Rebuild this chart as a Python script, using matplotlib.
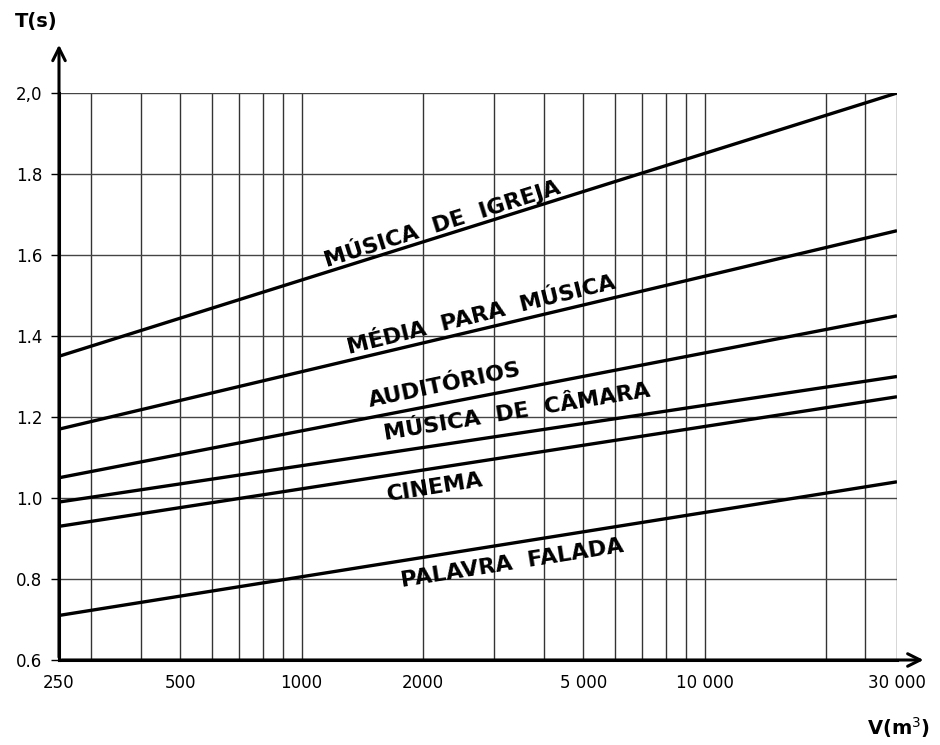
import numpy as np
import matplotlib
matplotlib.use("Agg")
import matplotlib.pyplot as plt

# --- data ---
series_names = ["MÚSICA  DE  IGREJA", "MÉDIA  PARA  MÚSICA", "AUDITÓRIOS",
                "MÚSICA  DE  CÂMARA", "CINEMA", "PALAVRA  FALADA"]
volume_ends = [250, 30000]
t_start = [1.35, 1.17, 1.05, 0.99, 0.93, 0.71]
t_end = [2.00, 1.66, 1.45, 1.30, 1.25, 1.04]

x_tick_values = [250, 500, 1000, 2000, 5000, 10000, 30000]
x_tick_labels = ["250", "500", "1000", "2000", "5 000", "10 000", "30 000"]
y_tick_values = [0.6, 0.8, 1.0, 1.2, 1.4, 1.6, 1.8, 2.0]
y_tick_labels = ["0.6", "0.8", "1.0", "1.2", "1.4", "1.6", "1.8", "2,0"]
x_grid_values = [300, 400, 500, 600, 700, 800, 900, 1000, 2000, 3000, 4000,
                 5000, 6000, 7000, 8000, 9000, 10000, 20000, 25000, 30000]

# label placement (data coords) and rotation
label_pos = [(2228, 1.681), (2800, 1.452), (2265, 1.279),
             (3430, 1.212), (2145, 1.027), (3330, 0.839)]
label_rot = [17.5, 13.8, 11.8, 9.3, 9.0, 9.0]

fig = plt.figure(figsize=(9.4, 7.45), dpi=100)
ax = fig.add_axes([59/940, 1-660/745, (897-59)/940, (660-93)/745])
ax.set_xscale("log")
ax.set_xlim(250, 30000)
ax.set_ylim(0.6, 2.0)

# grid
for gx in x_grid_values:
    ax.axvline(gx, color="#333333", lw=1.0, zorder=1)
for gy in y_tick_values[1:]:
    ax.axhline(gy, color="#444444", lw=1.0, zorder=1)

# lines
for a, b in zip(t_start, t_end):
    ax.plot(volume_ends, [a, b], color="black", lw=2.4, solid_capstyle="butt", zorder=3)

for name, (px, py), rot in zip(series_names, label_pos, label_rot):
    ax.text(px, py, name, rotation=rot, ha="center", va="center",
            rotation_mode="anchor", fontsize=16, fontweight="bold",
            family="DejaVu Sans", color="black", zorder=4)

# axes styling
for s in ["top", "right"]:
    ax.spines[s].set_visible(False)
ax.spines["left"].set_linewidth(2.2)
ax.spines["bottom"].set_linewidth(2.2)
ax.set_xticks(x_tick_values)
ax.set_xticklabels(x_tick_labels, fontsize=12)
ax.xaxis.set_minor_locator(matplotlib.ticker.NullLocator())
ax.set_yticks(y_tick_values)
ax.set_yticklabels(y_tick_labels, fontsize=12)
ax.tick_params(axis="x", length=0, pad=10)
ax.tick_params(axis="y", length=6, width=1, pad=6)

# arrows
ax.annotate("", xy=(0, 1.09), xytext=(0, 0), xycoords="axes fraction",
            arrowprops=dict(arrowstyle="->,head_length=0.9,head_width=0.45", lw=2.2, color="black"),
            annotation_clip=False)
ax.annotate("", xy=(1.035, 0), xytext=(0, 0), xycoords="axes fraction",
            arrowprops=dict(arrowstyle="->,head_length=0.9,head_width=0.45", lw=2.2, color="black"),
            annotation_clip=False)

fig.text(15/940, 1-22/745, "T(s)", fontsize=14, fontweight="bold", va="center", ha="left")
fig.text(930/940, 1-728/745, "V(m$^3$)", fontsize=14, fontweight="bold", va="center", ha="right")

fig.savefig("out.png", dpi=100)
